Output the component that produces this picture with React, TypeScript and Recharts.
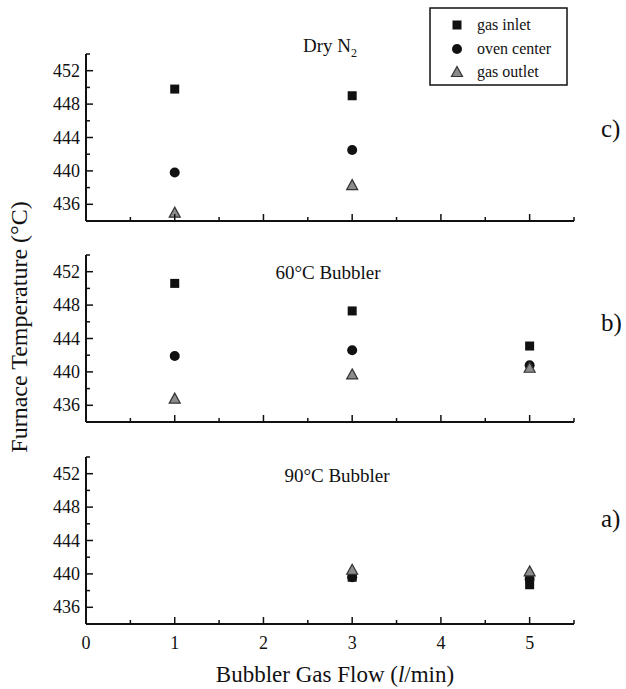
import { ScatterChart, Scatter, XAxis, YAxis } from 'recharts'

// flow rates (l/min) and temperatures (°C) per panel
const flowDry = [1, 3]
const dryInlet = [449.8, 449.0]
const dryCenter = [439.8, 442.5]
const dryOutlet = [435.0, 438.3]

const flow60 = [1, 3, 5]
const b60Inlet = [450.6, 447.3, 443.1]
const b60Center = [441.9, 442.6, 440.8]
const b60Outlet = [436.8, 439.7, 440.5]

const flow90 = [3, 5]
const b90Inlet = [439.6, 438.7]
const b90Center = [439.6, 439.4]
const b90Outlet = [440.5, 440.3]

const yTicks = [436, 438, 440, 442, 444, 446, 448, 450, 452, 454]
const xTicks = [0, 0.5, 1, 1.5, 2, 2.5, 3, 3.5, 4, 4.5, 5, 5.5]

const INK = '#111'
const FONT = '"Liberation Serif", "Times New Roman", serif'

const pts = (xs: number[], ys: number[]) => xs.map((x, i) => ({ x, y: ys[i] }))

const Square = ({ cx, cy }: any) => (
  <rect x={cx - 4.5} y={cy - 4.5} width={9} height={9} fill={INK} />
)
const Dot = ({ cx, cy }: any) => <circle cx={cx} cy={cy} r={5} fill={INK} />
const Tri = ({ cx, cy }: any) => (
  <path
    d={`M${cx},${cy - 5.5} L${cx + 5.5},${cy + 4.5} L${cx - 5.5},${cy + 4.5} Z`}
    fill="#8c8c8c"
    stroke="#333"
    strokeWidth={1.2}
  />
)

const YTick = ({ x, y, payload }: any) => {
  const v = payload.value
  const major = v % 4 === 0 && v !== 454
  return (
    <g>
      <line x1={x} x2={x + (major ? 7 : 4)} y1={y} y2={y} stroke={INK} strokeWidth={1.5} />
      {major && (
        <text x={x - 6} y={y} textAnchor="end" dominantBaseline="central"
          fontFamily={FONT} fontSize={18} fill={INK}>
          {v}
        </text>
      )}
    </g>
  )
}

const makeXTick = (labels: boolean) => ({ x, y, payload }: any) => {
  const v = payload.value
  const major = Number.isInteger(v)
  return (
    <g>
      {v !== 0 && (
        <line x1={x} x2={x} y1={y} y2={y - (major ? 7 : 4)} stroke={INK} strokeWidth={1.5} />
      )}
      {labels && major && (
        <text x={x} y={y + 25} textAnchor="middle" fontFamily={FONT} fontSize={18} fill={INK}>
          {v}
        </text>
      )}
    </g>
  )
}

function Panel({ top, inlet, center, outlet, labels }: any) {
  return (
    <div style={{ position: 'absolute', left: 0, top: top - 20 }}>
      <ScatterChart width={626} height={230} margin={{ top: 20, right: 52, left: 46, bottom: 13 }}>
        <XAxis
          type="number"
          dataKey="x"
          domain={[0, 5.5]}
          ticks={xTicks}
          interval={0}
          tickSize={0}
          tickMargin={0}
          height={30}
          axisLine={{ stroke: INK, strokeWidth: 2 }}
          tickLine={false}
          tick={makeXTick(labels)}
        />
        <YAxis
          type="number"
          dataKey="y"
          domain={[434, 454]}
          ticks={yTicks}
          interval={0}
          tickSize={0}
          tickMargin={0}
          width={40}
          axisLine={{ stroke: INK, strokeWidth: 2 }}
          tickLine={false}
          tick={<YTick />}
        />
        <Scatter data={inlet} shape={<Square />} isAnimationActive={false} />
        <Scatter data={center} shape={<Dot />} isAnimationActive={false} />
        <Scatter data={outlet} shape={<Tri />} isAnimationActive={false} />
      </ScatterChart>
    </div>
  )
}

export default function App() {
  return (
    <div style={{ position: 'absolute', left: 0, top: 0, width: 626, height: 689, background: '#fff', fontFamily: FONT }}>
      <Panel top={54} inlet={pts(flowDry, dryInlet)} center={pts(flowDry, dryCenter)} outlet={pts(flowDry, dryOutlet)} labels={false} />
      <Panel top={255} inlet={pts(flow60, b60Inlet)} center={pts(flow60, b60Center)} outlet={pts(flow60, b60Outlet)} labels={false} />
      <Panel top={457} inlet={pts(flow90, b90Inlet)} center={pts(flow90, b90Center)} outlet={pts(flow90, b90Outlet)} labels={true} />
      <svg width={626} height={689} style={{ position: 'absolute', left: 0, top: 0, pointerEvents: 'none' }}>
        <g fontFamily={FONT} fill={INK}>
          <text x={330} y={52} fontSize={19} textAnchor="middle">
            Dry N<tspan fontSize={12} dy={5}>2</tspan>
          </text>
          <text x={328} y={279} fontSize={19} textAnchor="middle">60°C Bubbler</text>
          <text x={337} y={482} fontSize={19} textAnchor="middle">90°C Bubbler</text>
          <text x={601} y={137} fontSize={25}>c)</text>
          <text x={601} y={331} fontSize={25}>b)</text>
          <text x={601} y={527} fontSize={25}>a)</text>
          <text x={335} y={682} fontSize={23} textAnchor="middle">
            Bubbler Gas Flow (<tspan fontStyle="italic">l</tspan>/min)
          </text>
          <text x={0} y={0} fontSize={24} textAnchor="middle" transform="translate(27,327) rotate(-90)">
            Furnace Temperature (°C)
          </text>
          <rect x={430} y={8} width={137} height={77} fill="#fff" stroke={INK} strokeWidth={1.5} />
          <Square cx={457} cy={25} />
          <Dot cx={457} cy={49} />
          <Tri cx={457} cy={72} />
          <text x={477} y={30} fontSize={16}>gas inlet</text>
          <text x={477} y={54} fontSize={16}>oven center</text>
          <text x={477} y={77} fontSize={16}>gas outlet</text>
        </g>
      </svg>
    </div>
  )
}
